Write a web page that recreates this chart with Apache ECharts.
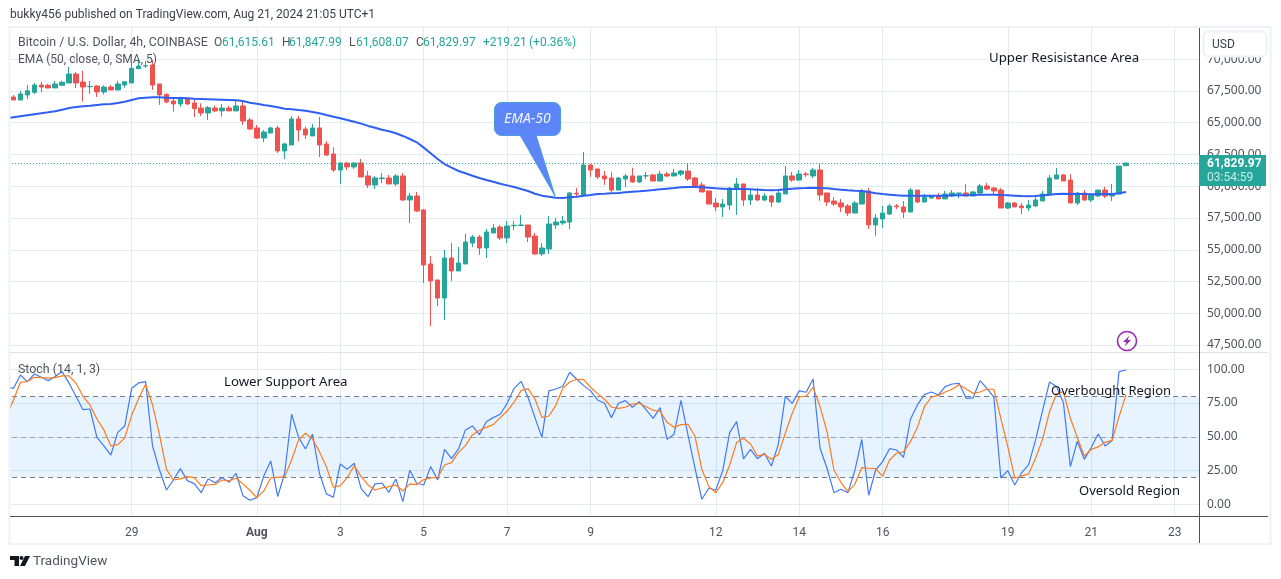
<!DOCTYPE html>
<html>
<head>
<meta charset="utf-8">
<title>BTCUSD 4h</title>
<style>
  html, body { margin: 0; padding: 0; background: #fff; overflow: hidden; }
  #chart { width: 1281px; height: 579px; }
</style>
<script src="https://cdn.jsdelivr.net/npm/echarts@6/dist/echarts.min.js"></script>
</head>
<body>
<div id="chart"></div>
<script>
const UP = '#26a69a';
const DOWN = '#ef5350';
const GRID = '#e3ebf2';
const FONT = 'Roboto, sans-serif';
const NOTE_FONT = '"Noto Sans", sans-serif';

// 4h bars, slot 0 is the bar just off the left edge (only the lines show there),
// the axis runs on 10 bars past the last candle
const BAR_COUNT = 172;

const tickIndexes = [18, 36, 48, 60, 72, 84, 102, 114, 126, 144, 156, 168];
const tickLabels = ['29', 'Aug', '3', '5', '7', '9', '12', '14', '16', '19', '21', '23'];

const priceTicks = [47500, 50000, 52500, 55000, 57500, 60000, 62500, 65000, 67500, 70000];
const stochTicks = [0, 25, 50, 75, 100];
const lastClose = 61829.97;

const opens = [
  67030,66790,67190,67400,67970,67950,67740,67950,68130,68840,
  68210,67840,67890,67420,67810,67580,67970,68130,69260,69470,
  69550,68050,67240,66710,66480,66890,66560,66160,65770,66160,
  65930,66160,65930,66320,65220,64590,63800,64190,64590,62780,
  63250,65300,64510,63960,64590,63330,62540,61280,61830,61520,
  61830,60810,60100,60600,60650,60180,60810,58920,59230,58130,
  53880,52620,51200,54350,53330,53880,55530,56000,55140,56320,
  56790,55930,56890,56910,56950,56080,54670,55060,56950,57110,
  57180,59450,59310,61670,61360,60810,60650,59700,60570,60810,
  60340,60810,60890,60410,60960,60810,60960,61200,60650,60100,
  59630,58680,58370,58520,59780,60180,58920,59310,58920,59230,
  58760,59390,60810,60490,60960,60810,61280,59470,58840,58680,
  58450,57890,58600,59630,56950,57420,57810,58450,58370,57970,
  59700,58760,59070,59230,59000,59230,59420,59470,59230,59470,
  60020,59860,59700,58290,58680,58450,58290,58450,58840,59310,
  60570,60890,60490,58680,59470,58920,59230,59700,59230,59390,
  61615.61
];
const highs = [
  67190,67500,67970,68130,68210,68070,68290,68290,69390,68990,
  69100,68290,67950,67950,67970,68290,68290,69780,69860,69860,
  69940,68050,67320,67030,67050,66970,66870,66530,66320,66370,
  66480,66320,66790,66790,65370,64820,64430,64690,64750,63430,
  65530,65530,64690,64900,65450,63540,63070,61860,61890,61890,
  62150,61200,60810,61040,60890,60960,61040,59470,59550,58210,
  54510,52620,54980,55530,55220,56240,56160,56160,56630,57030,
  56950,57260,57260,57740,56950,56320,55530,57660,57500,57660,
  59550,59860,62700,61750,61360,61200,61120,60730,60960,61440,
  60810,61120,60960,61200,61120,61360,61280,61830,60730,60340,
  59630,59070,59000,59940,60650,60180,59700,59860,59470,59310,
  59780,61590,61120,61280,61120,61440,61830,59470,59150,59000,
  58600,58840,59780,59860,57810,58450,58600,58600,58840,59860,
  59700,59390,59310,59470,59630,59700,59470,60180,59630,60180,
  60260,59940,59860,58760,58760,58680,58920,59310,59630,60890,
  61440,60960,60960,59550,59700,59390,59700,59940,60180,61590,
  61847.99
];
const lows = [
  66790,66790,66870,67270,67420,67710,67740,67920,68130,67740,
  66660,67270,67030,67210,67580,67580,67760,68130,69230,69310,
  67580,66400,66530,65870,66260,66400,65450,65530,65220,65850,
  65480,65930,65930,64820,64430,63720,63480,64190,62620,62150,
  63250,63540,63720,63960,62300,62380,61120,60180,61280,61360,
  60730,59860,59780,60260,60180,60020,58840,57110,57970,52380,
  49000,50570,49470,52540,53330,53880,55220,54590,54350,56320,
  55770,55530,56550,56870,55610,54590,54510,54670,56630,56950,
  56630,59230,59310,60730,60570,60100,59550,59700,59940,60260,
  60260,60570,60410,60410,60730,60810,60810,60410,59860,59550,
  58600,58050,57580,58130,57740,58450,58520,58840,58840,58370,
  58680,59390,60340,60410,60730,60650,58840,58450,58450,57970,
  57660,57890,58600,56630,56080,56710,57740,58210,57500,57970,
  58680,58760,59000,59000,59000,59150,59070,59230,59230,59390,
  59700,59310,58290,58210,58370,57810,58050,58370,58840,59310,
  60570,60410,58680,58520,58840,58760,59150,59070,58840,59390,
  61608.07
];
const closes = [
  66790,67270,67520,67970,67810,67740,68050,68190,68840,68130,
  67810,67850,67420,67810,67580,68050,68230,69290,69470,69490,
  67970,67190,66640,66480,66890,66480,66110,65770,66190,65930,
  66160,65930,66320,65140,64510,63800,64270,64590,62780,63330,
  65300,64430,64040,64590,63250,62460,61280,61830,61520,61830,
  60730,60100,60650,60650,60180,60810,58920,59230,58050,53800,
  52540,51200,54350,53330,53960,55610,56000,55140,56400,56710,
  55930,56870,56920,56950,56000,54670,55140,57030,57180,57260,
  59470,59390,61670,61280,60730,60570,59700,60650,60810,60340,
  60810,60830,60410,60960,60810,61040,61200,60570,60020,59550,
  58600,58370,58600,59860,60180,58920,59310,58920,59230,58760,
  59470,60810,60490,60960,60910,61280,59310,58760,58600,58370,
  57890,58680,59630,56950,57500,57890,58450,58390,57970,59700,
  58760,59150,59230,59000,59390,59470,59470,59230,59550,60020,
  59780,59630,58290,58680,58370,58310,58520,58920,59390,60650,
  60890,60410,58680,59470,58920,59310,59700,59230,59390,61590,
  61829.97
];

const ema50 = [
  65350,65430,65510,65590,65670,65750,65820,65900,66030,66160,66240,
  66300,66340,66400,66450,66480,66560,66660,66790,66930,66970,
  67000,67000,66970,66950,66950,66930,66890,66870,66850,66830,
  66810,66790,66770,66710,66580,66500,66400,66320,66220,66110,
  66060,66000,65950,65850,65750,65610,65480,65350,65220,65080,
  64930,64750,64610,64450,64330,64170,63960,63720,63460,63040,
  62600,62150,61750,61460,61200,61020,60830,60650,60490,60360,
  60200,60070,59940,59780,59630,59410,59260,59180,59100,59070,
  59130,59180,59260,59310,59390,59410,59450,59470,59520,59570,
  59600,59650,59700,59760,59810,59860,59920,59940,59940,59920,
  59890,59840,59810,59780,59780,59780,59760,59730,59700,59680,
  59700,59760,59810,59840,59860,59890,59860,59840,59780,59730,
  59680,59650,59630,59550,59450,59390,59340,59290,59260,59260,
  59260,59260,59260,59260,59260,59290,59290,59290,59310,59340,
  59340,59340,59310,59290,59260,59230,59210,59230,59290,59340,
  59390,59410,59390,59390,59390,59370,59370,59390,59390,59450,
  59550
];

const stochK = [
  87.2,85.9,95.8,90.9,96.5,94.1,91.6,94.6,98.3,89.6,79.8,
  70.1,70.6,49.6,43.2,36.5,53.3,58.0,85.9,89.9,90.9,
  43.2,25.4,10.6,18.0,26.4,17.5,15.3,8.6,19.0,16.0,
  19.8,16.3,23.0,6.4,3.0,4.9,21.0,32.1,5.7,23.0,
  66.7,49.6,41.0,51.9,23.0,7.7,5.2,29.9,25.9,30.4,
  11.6,5.7,15.1,15.6,8.9,18.8,2.0,25.2,15.6,14.3,
  27.9,18.0,40.7,33.8,41.0,55.1,58.0,51.6,61.2,64.2,
  66.7,74.8,85.9,91.1,79.3,64.2,49.6,84.0,85.4,87.4,
  97.8,92.6,87.9,84.0,77.3,74.8,64.2,74.8,76.8,71.9,
  76.0,69.9,63.7,71.6,48.1,51.9,77.0,51.4,27.2,3.7,
  11.9,10.6,24.9,53.1,61.2,33.6,40.7,33.8,37.8,28.4,
  44.4,80.0,74.8,84.0,83.0,92.8,41.5,26.7,8.6,11.1,
  8.6,24.9,48.1,6.7,25.4,31.6,41.2,40.2,34.8,63.0,
  73.6,81.2,83.2,81.0,87.2,89.1,89.6,78.5,78.8,91.6,
  85.9,79.3,19.5,24.9,14.3,23.5,29.4,47.7,69.4,90.6,
  87.2,75.3,27.9,46.7,33.3,42.0,52.1,43.2,47.2,98.3,
  99.5
];
const stochD = [
  66.0,77.3,90.4,90.9,94.1,93.8,93.6,93.8,95.1,95.1,89.6,
  80.0,73.6,63.2,55.1,43.2,44.2,49.1,65.9,78.3,88.9,
  73.6,51.4,25.9,18.0,18.8,20.5,19.8,13.8,14.3,14.8,
  18.0,17.3,19.5,15.1,10.4,4.9,9.9,19.5,20.0,20.5,
  32.8,47.7,52.6,48.4,39.0,27.9,12.6,13.8,19.8,28.6,
  20.5,14.3,10.6,12.1,13.1,14.3,9.9,15.1,14.6,18.3,
  19.5,19.8,29.1,30.9,38.5,43.5,51.4,54.8,57.0,59.0,
  64.2,69.1,75.6,84.2,85.7,78.0,64.4,65.4,73.3,85.9,
  90.6,92.6,92.3,86.7,82.0,77.8,71.9,71.1,71.9,74.3,
  74.8,72.3,69.6,68.9,60.7,57.0,59.0,59.3,50.6,25.9,
  13.1,8.6,16.0,29.1,45.7,48.9,44.7,35.8,37.0,33.3,
  36.8,52.6,67.4,79.5,80.2,86.7,72.3,53.8,25.4,16.3,
  9.4,14.8,27.2,26.7,26.4,20.7,32.8,37.8,38.8,46.4,
  57.0,72.3,79.3,80.7,83.2,85.2,88.6,85.4,82.2,83.2,
  85.2,85.2,63.7,42.7,19.3,21.0,22.5,34.1,48.1,68.6,
  81.7,83.5,63.7,49.6,35.8,40.7,42.5,45.9,47.4,64.9,
  81.2
];
const overbought = 80;
const middle = 50;
const oversold = 20;

const categories = [];
for (let i = 0; i < BAR_COUNT; i++) {
  categories.push(String(i));
}
// no candle in the off-edge slot
const candles = [['-', '-', '-', '-']].concat(opens.map((o, i) => [o, closes[i], lows[i], highs[i]]));

function fmt(v) {
  return v.toLocaleString('en-US', { minimumFractionDigits: 2, maximumFractionDigits: 2 });
}

function txt(x, y, text, color, extra) {
  return {
    type: 'text', x, y, z: 50, silent: true,
    style: Object.assign({ text, fill: color, font: '12px ' + FONT, textVerticalAlign: 'middle', textBaseline: 'middle' }, extra || {}),
  };
}

function hline(x1, x2, y, stroke) {
  return { type: 'line', z: 40, silent: true, shape: { x1, y1: y, x2, y2: y }, style: { stroke, lineWidth: 1 } };
}

const GREY = '#50535e';
const NOTE = { font: '13px ' + NOTE_FONT };
const NOTE_WIDE = { font: '13.25px ' + NOTE_FONT };
const STATUS = { font: '12.4px ' + FONT };
const overlays = [
  // hides the off-edge slot left of the frame
  { type: 'rect', z: 38, silent: true, shape: { x: 0, y: 27, width: 9.5, height: 490 }, style: { fill: '#fff' } },

  // frame and separators
  { type: 'rect', z: 39, silent: true, shape: { x: 9.5, y: 27, width: 1261, height: 517 }, style: { fill: 'none', stroke: '#eef1f6', lineWidth: 2 } },
  hline(10, 1268, 352.5, '#e0e3eb'),
  hline(10, 1268, 516.5, '#50535e'),
  { type: 'line', z: 40, silent: true, shape: { x1: 1199.5, y1: 28, x2: 1199.5, y2: 543 }, style: { stroke: '#50535e', lineWidth: 1 } },

  txt(10, 15, 'bukky456 published on TradingView.com, Aug 21, 2024 21:05 UTC+1', '#3b3e48'),

  // status lines
  txt(18, 42.5, 'Bitcoin / U.S. Dollar, 4h, COINBASE', GREY, STATUS),
  txt(214, 42.5, 'O', GREY), txt(222, 42.5, '61,615.61', UP),
  txt(282, 42.5, 'H', GREY), txt(289, 42.5, '61,847.99', UP),
  txt(349, 42.5, 'L', GREY), txt(356, 42.5, '61,608.07', UP),
  txt(416, 42.5, 'C', GREY), txt(423, 42.5, '61,829.97', UP),
  txt(483, 42.5, '+219.21', UP), txt(529, 42.5, '(+0.36%)', UP),
  txt(18, 60, 'EMA (50, close, 0, SMA, 5)', GREY),
  txt(18, 369.5, 'Stoch (14, 1, 3)', GREY, STATUS),

  // drawn notes
  txt(989, 58.5, 'Upper Resisistance Area', '#131722', NOTE_WIDE),
  txt(224, 382.5, 'Lower Support Area', '#131722', NOTE_WIDE),
  txt(1051, 391.5, 'Overbought Region', '#131722', NOTE),
  txt(1079, 491.5, 'Oversold Region', '#131722', NOTE),

  // EMA-50 callout
  { type: 'polygon', z: 45, silent: true, shape: { points: [[520, 135], [536, 135], [555, 196]] }, style: { fill: '#5c85f7', stroke: '#4a9fd8', lineWidth: 1 } },
  { type: 'rect', z: 46, silent: true, shape: { x: 494.5, y: 102.5, width: 66, height: 33, r: 7 }, style: { fill: '#5c85f7', stroke: '#4a9fd8', lineWidth: 1 } },
  { type: 'rect', z: 47, silent: true, shape: { x: 521, y: 133, width: 14, height: 4 }, style: { fill: '#5c85f7' } },
  txt(504, 119, 'EMA-50', '#f2f5ff', { font: 'italic 14px ' + NOTE_FONT }),

  // currency button
  { type: 'rect', z: 48, silent: true, shape: { x: 1203.5, y: 31.5, width: 63, height: 25, r: 5 }, style: { fill: '#fff', stroke: '#eef1f6', lineWidth: 2 } },
  txt(1212, 44.5, 'USD', '#3b3e48'),

  // last price tag
  { type: 'rect', z: 48, silent: true, shape: { x: 1199, y: 155, width: 67, height: 31 }, style: { fill: UP } },
  txt(1207, 163.5, fmt(lastClose), '#fff', { font: 'bold 12px ' + FONT }),
  txt(1207, 177.5, '03:54:59', '#c9ebe7'),

  // lightning badge
  { type: 'circle', z: 48, silent: true, shape: { cx: 1127, cy: 341, r: 9.5 }, style: { fill: '#fff', stroke: '#9c27b0', lineWidth: 1.6 } },
  { type: 'polygon', z: 49, silent: true, shape: { points: [[1129.5, 335.5], [1123, 342], [1126.5, 342], [1124.5, 346.5], [1131, 340], [1127.5, 340]] }, style: { fill: '#9c27b0' } },

  // logo
  { type: 'polygon', z: 48, silent: true, shape: { points: [[10, 556], [19, 556], [19, 566], [14.5, 566], [14.5, 560], [10, 560]] }, style: { fill: '#131722' } },
  { type: 'circle', z: 48, silent: true, shape: { cx: 21.5, cy: 558, r: 2 }, style: { fill: '#131722' } },
  { type: 'polygon', z: 48, silent: true, shape: { points: [[25, 556], [30, 556], [25, 566], [20, 566]] }, style: { fill: '#131722' } },
  txt(33, 562, 'TradingView', GREY, { font: '13.5px ' + FONT }),
];

const xBase = {
  type: 'category',
  data: categories,
  boundaryGap: true,
  axisLine: { show: false },
  axisTick: { show: false },
  splitLine: {
    show: true,
    alignWithLabel: true,
    interval: (i) => tickIndexes.includes(i),
    lineStyle: { color: GRID, width: 1 },
  },
};

const yLabel = { formatter: (v) => fmt(v), color: GREY, fontFamily: NOTE_FONT, fontSize: 12, margin: 8, padding: [4, 0, 0, 0] };

const chart = echarts.init(document.getElementById('chart'), null, { renderer: 'canvas' });
chart.setOption({
  animation: false,
  backgroundColor: '#fff',
  textStyle: { fontFamily: FONT },
  grid: [
    { left: 3.05, top: 28, width: 1195.95, height: 324 },
    { left: 3.05, top: 353, width: 1195.95, height: 163 },
  ],
  xAxis: [
    Object.assign({}, xBase, { gridIndex: 0, axisLabel: { show: false } }),
    Object.assign({}, xBase, {
      gridIndex: 1,
      axisLabel: {
        show: true,
        interval: (i) => tickIndexes.includes(i),
        formatter: (v, i) => {
          const label = tickLabels[tickIndexes.indexOf(i)];
          return label === 'Aug' ? '{b|Aug}' : label;
        },
        color: GREY,
        fontSize: 12,
        margin: 11,
        rich: { b: { fontWeight: 'bold', color: GREY, fontSize: 12 } },
      },
    }),
  ],
  yAxis: [
    {
      gridIndex: 0, position: 'right', type: 'value', min: 46950, max: 72460, scale: true,
      axisLine: { show: false },
      axisTick: { show: false, customValues: priceTicks },
      axisLabel: Object.assign({ customValues: priceTicks }, yLabel),
      splitLine: { show: true, lineStyle: { color: GRID, width: 1 } },
    },
    {
      gridIndex: 1, position: 'right', type: 'value', min: -8.67, max: 112.07,
      axisLine: { show: false },
      axisTick: { show: false, customValues: stochTicks },
      axisLabel: Object.assign({ customValues: stochTicks }, yLabel),
      splitLine: { show: true, lineStyle: { color: GRID, width: 1 } },
    },
  ],
  series: [
    {
      name: 'BTCUSD', type: 'candlestick', xAxisIndex: 0, yAxisIndex: 0, data: candles, barWidth: 5,
      itemStyle: { color: UP, color0: DOWN, borderColor: UP, borderColor0: DOWN, borderWidth: 1 },
      markLine: {
        silent: true, symbol: 'none', label: { show: false },
        lineStyle: { color: UP, type: [1, 2], width: 1 },
        data: [{ yAxis: lastClose }],
      },
    },
    {
      name: 'EMA 50', type: 'line', xAxisIndex: 0, yAxisIndex: 0, data: ema50, showSymbol: false, z: 5,
      lineStyle: { color: '#2f5ff2', width: 2 },
    },
    {
      name: '%K', type: 'line', xAxisIndex: 1, yAxisIndex: 1, data: stochK, showSymbol: false, z: 5,
      lineStyle: { color: '#4379f4', width: 1.2 },
      markArea: {
        silent: true,
        itemStyle: { color: 'rgba(33,150,243,0.11)' },
        data: [[{ yAxis: overbought }, { yAxis: oversold }]],
      },
      markLine: {
        silent: true, symbol: 'none', label: { show: false },
        lineStyle: { color: '#787b86', type: [5, 4], width: 1 },
        data: [{ yAxis: overbought }, { yAxis: middle, lineStyle: { color: '#a0a3ad', type: [5, 4], width: 1 } }, { yAxis: oversold }],
      },
    },
    {
      name: '%D', type: 'line', xAxisIndex: 1, yAxisIndex: 1, data: stochD, showSymbol: false, z: 6,
      lineStyle: { color: '#ff7a1c', width: 1.2 },
    },
  ],
  graphic: overlays,
});
</script>
</body>
</html>
